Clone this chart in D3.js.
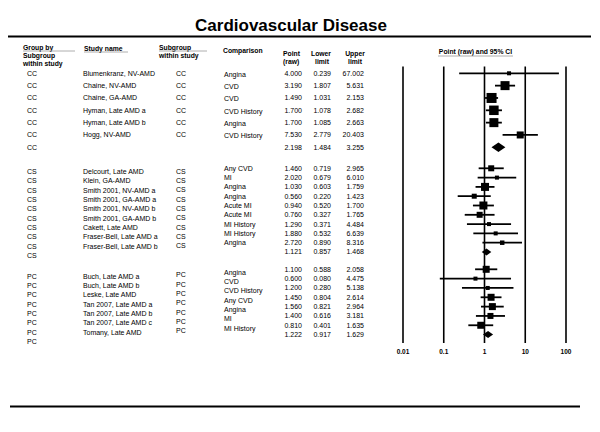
<!DOCTYPE html>
<html><head><meta charset="utf-8">
<script src="https://cdn.jsdelivr.net/npm/d3@7"></script>
<style>body{margin:0;background:#fff}svg{display:block}text{font-family:"Liberation Sans",Arial,sans-serif;fill:#000}</style>
</head><body><svg id="c" width="600" height="432"></svg>
<script>
// ---------- data ----------
const groupNames = ["CC", "CS", "PC"];
const studyGroup = ["CC","CC","CC","CC","CC","CC",
  "CS","CS","CS","CS","CS","CS","CS","CS","CS",
  "PC","PC","PC","PC","PC","PC","PC"];
const studyNames = ["Blumenkranz, NV-AMD","Chaine, NV-AMD","Chaine, GA-AMD","Hyman, Late AMD a","Hyman, Late AMD b","Hogg, NV-AMD",
  "Delcourt, Late AMD","Klein, GA-AMD","Smith 2001, NV-AMD a","Smith 2001, GA-AMD a","Smith 2001, NV-AMD b","Smith 2001, GA-AMD b","Cakett, Late AMD","Fraser-Bell, Late AMD a","Fraser-Bell, Late AMD b",
  "Buch, Late AMD a","Buch, Late AMD b","Leske, Late AMD","Tan 2007, Late AMD a","Tan 2007, Late AMD b","Tan 2007, Late AMD c","Tomany, Late AMD"];
const comparisons = ["Angina","CVD","CVD","CVD History","Angina","CVD History",
  "Any CVD","MI","Angina","Angina","Acute MI","Acute MI","MI History","MI History","Angina",
  "Angina","CVD","CVD History","Any CVD","Angina","MI","MI History"];
const pointRaw = [4.000,3.190,1.490,1.700,1.700,7.530,
  1.460,2.020,1.030,0.560,0.940,0.760,1.290,1.880,2.720,
  1.100,0.600,1.200,1.450,1.560,1.400,0.810];
const lowerLimit = [0.239,1.807,1.031,1.078,1.085,2.779,
  0.719,0.679,0.603,0.220,0.520,0.327,0.371,0.532,0.890,
  0.588,0.080,0.280,0.804,0.821,0.616,0.401];
const upperLimit = [67.002,5.631,2.153,2.682,2.663,20.403,
  2.965,6.010,1.759,1.423,1.700,1.765,4.484,6.639,8.316,
  2.058,4.475,5.138,2.614,2.964,3.181,1.635];
const relWeight = [1.6,8.1,10,9,8.1,4.9,
  3.6,1.6,6.4,2.5,6.4,3.6,1.6,1.6,2.0,
  4.9,1.6,1.6,4.9,4.9,3.6,4.9];
const summaryPoint = [2.198,1.121,1.222];
const summaryLower = [1.484,0.857,0.917];
const summaryUpper = [3.255,1.468,1.629];
const tickValues = [0.01,0.1,1,10,100];
const tickLabels = ["0.01","0.1","1","10","100"];

// ---------- layout ----------
const svg = d3.select("#c");
const fmt = d3.format(".3f");

// rows: studies then summary per group, with a blank row between groups
const rows = [];
let idx = 0;
groupNames.forEach((g, gi) => {
  studyGroup.forEach((sg, i) => { if (sg === g) rows.push({type:"study", g, gi, i, r: idx++}); });
  rows.push({type:"summary", g, gi, r: idx++});
  idx++; // gap
});
const y = d3.scaleLinear().domain([0,6,8,17,19,26]).range([73.3,147.3,168.3,252,269.3,334.6]);
const x = d3.scaleLog().domain([0.01,100]).range([403,566]);
const size = d3.scaleSqrt().domain([0,10]).range([0,10]);

// text offsets per column & group (as in the reference)
const offGroup = [0,3.4,7], offStudy = [0,3.4,7], offSub = [0,3,5.5], offComp = [1,0,3];

// title
svg.append("text").attr("x",291).attr("y",31).attr("text-anchor","middle")
  .attr("font-size",17).attr("font-weight","bold").text("Cardiovascular Disease");
svg.append("line").attr("x1",8).attr("x2",591).attr("y1",36.5).attr("y2",36.5).attr("stroke","#000").attr("stroke-width",2);
svg.append("line").attr("x1",10).attr("x2",580).attr("y1",406.5).attr("y2",406.5).attr("stroke","#000").attr("stroke-width",2);

// headers
const hdr = svg.append("g").attr("font-size",6.8).attr("font-weight","bold");
function htext(xp, yp, t, anchor){ hdr.append("text").attr("x",xp).attr("y",yp).attr("dy","0.35em").attr("text-anchor",anchor||"start").text(t); }
htext(23,48,"Group by"); htext(23,56,"Subgroup"); htext(23,64,"within study");
htext(84,48.5,"Study name");
htext(159,47.5,"Subgroup"); htext(159,55.5,"within study");
htext(223,51,"Comparison");
htext(283,54,"Point"); htext(283,62,"(raw)");
htext(321,54,"Lower","middle"); htext(322,62,"limit","middle");
htext(355,54,"Upper","middle"); htext(355,62,"limit","middle");
htext(475.5,52,"Point (raw) and 95% CI","middle");
const ul = svg.append("g").attr("stroke","#999").attr("stroke-width",0.8);
[[23,75,51],[84,128,52],[159,207,51],[438,513,56]].forEach(d=>ul.append("line").attr("x1",d[0]).attr("x2",d[1]).attr("y1",d[2]).attr("y2",d[2]));

// table body
const body = svg.append("g").attr("font-size",7);
rows.forEach(d => {
  const yy = y(d.r);
  const t = (xp, off, s, anchor) => body.append("text").attr("x",xp).attr("y",yy+off).attr("dy","0.35em").attr("text-anchor",anchor||"start").text(s);
  t(27, offGroup[d.gi], d.g);
  if (d.type === "study") {
    t(83, offStudy[d.gi], studyNames[d.i]);
    t(176, offSub[d.gi], d.g);
    t(224, offComp[d.gi], comparisons[d.i]);
    t(302, 0, fmt(pointRaw[d.i]), "end");
    t(331, 0, fmt(lowerLimit[d.i]), "end");
    t(364, 0, fmt(upperLimit[d.i]), "end");
  } else {
    t(302, 0, fmt(summaryPoint[d.gi]), "end");
    t(331, 0, fmt(summaryLower[d.gi]), "end");
    t(364, 0, fmt(summaryUpper[d.gi]), "end");
  }
});

// forest plot
const fp = svg.append("g");
fp.selectAll("line.v").data(tickValues).join("line")
  .attr("x1",d=>x(d)).attr("x2",d=>x(d)).attr("y1",66.5).attr("y2",343)
  .attr("stroke","#000").attr("stroke-width",1.6);
fp.selectAll("text.t").data(tickValues).join("text")
  .attr("x",d=>x(d)).attr("y",352).attr("dy","0.35em").attr("text-anchor","middle")
  .attr("font-size",6.5).attr("font-weight","bold").text((d,i)=>tickLabels[i]);

const studies = rows.filter(d=>d.type==="study");
fp.selectAll("line.ci").data(studies).join("line")
  .attr("x1",d=>x(lowerLimit[d.i])).attr("x2",d=>x(upperLimit[d.i]))
  .attr("y1",d=>y(d.r)).attr("y2",d=>y(d.r)).attr("stroke","#000").attr("stroke-width",1.8);
fp.selectAll("rect.sq").data(studies).join("rect")
  .attr("x",d=>x(pointRaw[d.i]) - size(relWeight[d.i])/2)
  .attr("y",d=>y(d.r) - size(relWeight[d.i])/2)
  .attr("width",d=>size(relWeight[d.i])).attr("height",d=>size(relWeight[d.i])).attr("fill","#000");
const dh = [4.7,3.5,3.5];
fp.selectAll("path.dm").data(rows.filter(d=>d.type==="summary")).join("path")
  .attr("d",d=>{
    const yy=y(d.r), l=x(summaryLower[d.gi]), p=x(summaryPoint[d.gi]), u=x(summaryUpper[d.gi]), h=dh[d.gi];
    return `M${l},${yy}L${p},${yy-h}L${u},${yy}L${p},${yy+h}Z`;
  }).attr("fill","#000");
</script></body></html>
